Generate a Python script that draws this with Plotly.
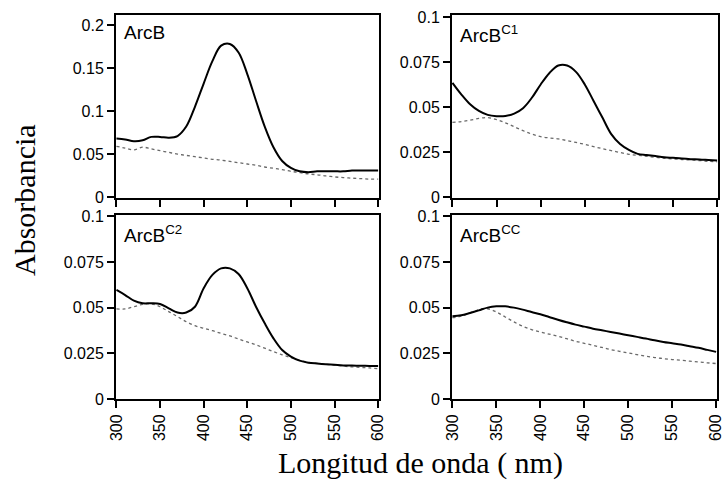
# Espectros de absorción de ArcB y sus variantes (4 paneles)
import plotly.graph_objects as go

# --- Datos ---
LONGITUD_ONDA = [300, 310, 320, 330, 340, 350, 360, 370, 380, 390, 400,
                 410, 420, 430, 440, 450, 460, 470, 480, 490, 500,
                 510, 520, 530, 540, 550, 560, 570, 580, 590, 600]

ARCB_OX = [0.068, 0.067, 0.065, 0.066, 0.070, 0.070, 0.069, 0.071, 0.082, 0.105, 0.132,
           0.158, 0.176, 0.178, 0.168, 0.143, 0.112, 0.082, 0.058, 0.042, 0.034,
           0.030, 0.029, 0.030, 0.030, 0.030, 0.030, 0.031, 0.031, 0.031, 0.031]
ARCB_RED = [0.059, 0.057, 0.055, 0.058, 0.056, 0.054, 0.052, 0.050, 0.0485, 0.047, 0.0455,
            0.044, 0.043, 0.0415, 0.040, 0.0385, 0.037, 0.035, 0.0335, 0.032, 0.030,
            0.0285, 0.027, 0.026, 0.0246, 0.0235, 0.0227, 0.022, 0.0215, 0.021, 0.021]

C1_OX = [0.0634, 0.057, 0.0515, 0.0478, 0.0456, 0.0449, 0.045, 0.0463, 0.0493, 0.0551, 0.0625,
         0.0689, 0.073, 0.073, 0.0695, 0.0625, 0.0533, 0.0441, 0.0349, 0.0294, 0.0261,
         0.0239, 0.0233, 0.0227, 0.0221, 0.0217, 0.0213, 0.021, 0.0208, 0.0205, 0.0202]
C1_RED = [0.0414, 0.0419, 0.0426, 0.0436, 0.0441, 0.043, 0.0412, 0.039, 0.0368, 0.0349, 0.0335,
          0.0328, 0.0322, 0.0313, 0.0303, 0.0292, 0.028, 0.0268, 0.0257, 0.0247, 0.0237,
          0.0231, 0.0226, 0.022, 0.0215, 0.0211, 0.0208, 0.0205, 0.0202, 0.0198, 0.0195]

C2_OX = [0.0597, 0.0569, 0.0538, 0.0524, 0.0524, 0.052, 0.0496, 0.0473, 0.0473, 0.0505, 0.0606,
         0.0679, 0.0715, 0.0715, 0.0684, 0.0606, 0.0505, 0.0414, 0.0332, 0.0268, 0.0232,
         0.021, 0.0199, 0.0194, 0.019, 0.0187, 0.0184, 0.0183, 0.0182, 0.0181, 0.018]
C2_RED = [0.0493, 0.0493, 0.0505, 0.0518, 0.052, 0.0505, 0.0478, 0.0451, 0.0423, 0.0401, 0.0387,
          0.0374, 0.0359, 0.0345, 0.0328, 0.0312, 0.0296, 0.0278, 0.0259, 0.0242, 0.0226,
          0.0212, 0.0201, 0.0195, 0.019, 0.0185, 0.018, 0.0176, 0.0173, 0.017, 0.0166]

CC_OX = [0.0453, 0.0458, 0.0471, 0.0485, 0.050, 0.0507, 0.0507, 0.050, 0.0489, 0.0476, 0.0464,
         0.0449, 0.0434, 0.042, 0.0407, 0.0396, 0.0385, 0.0376, 0.0367, 0.0358, 0.0349,
         0.034, 0.0331, 0.0321, 0.0312, 0.0305, 0.0298, 0.0289, 0.028, 0.0269, 0.0258]
CC_RED = [0.0445, 0.0453, 0.0471, 0.0489, 0.0494, 0.0476, 0.0449, 0.0422, 0.0398, 0.038, 0.0367,
          0.0355, 0.0343, 0.033, 0.0316, 0.0305, 0.0294, 0.0282, 0.027, 0.0261, 0.0252,
          0.0243, 0.0234, 0.0227, 0.0221, 0.0216, 0.0212, 0.0207, 0.0203, 0.0198, 0.0194]

ETIQUETAS = ["ArcB", "ArcB<sup>C1</sup>", "ArcB<sup>C2</sup>", "ArcB<sup>CC</sup>"]
X_TICKS = [300, 350, 400, 450, 500, 550, 600]
Y_TICKS_ARCB = [0, 0.05, 0.1, 0.15, 0.2]
Y_TICKS_MUT = [0, 0.025, 0.05, 0.075, 0.1]

W, H = 725, 480
FUENTE_SANS = "Liberation Sans, Arial, sans-serif"
FUENTE_SERIF = "Liberation Serif, Times New Roman, serif"

# Paneles en píxeles: (izq, der, arriba, abajo)
PANELES = [(116, 379, 15, 198), (452, 718, 15, 198),
           (116, 379, 215, 399), (452, 717, 215, 399)]
RANGOS_Y = [[-0.001, 0.2116], [-0.0006, 0.1011], [0, 0.1007], [0, 0.1007]]

fig = go.Figure()

series = [(ARCB_OX, ARCB_RED), (C1_OX, C1_RED), (C2_OX, C2_RED), (CC_OX, CC_RED)]
for i, (ox, red) in enumerate(series):
    sufijo = "" if i == 0 else str(i + 1)
    # Espectro reducido (punteado gris) y oxidado (línea negra)
    fig.add_trace(go.Scatter(x=LONGITUD_ONDA, y=red, mode="lines", line_shape="spline",
                             line=dict(color="#6a6a6a", width=1.3, dash="dot"),
                             xaxis="x" + sufijo, yaxis="y" + sufijo, showlegend=False))
    fig.add_trace(go.Scatter(x=LONGITUD_ONDA, y=ox, mode="lines", line_shape="spline",
                             line=dict(color="black", width=2),
                             xaxis="x" + sufijo, yaxis="y" + sufijo, showlegend=False))

    izq, der, arriba, abajo = PANELES[i]
    yt = Y_TICKS_ARCB if i == 0 else Y_TICKS_MUT
    fila_inferior = i >= 2
    fig.update_layout(**{
        "xaxis" + sufijo: dict(
            domain=[izq / W, der / W], range=[299.5, 601], anchor="y" + sufijo,
            tickvals=X_TICKS, ticktext=[str(v) for v in X_TICKS],
            showticklabels=fila_inferior, tickangle=-90, automargin=False,
            ticks="outside", ticklen=7, tickwidth=2, tickcolor="black",
            showline=True, linecolor="black", linewidth=2, mirror=True,
            showgrid=False, zeroline=False,
            tickfont=dict(family=FUENTE_SANS, size=16, color="black")),
        "yaxis" + sufijo: dict(
            domain=[1 - abajo / H, 1 - arriba / H], range=RANGOS_Y[i], anchor="x" + sufijo,
            tickvals=yt, ticktext=[f"{v:g}" for v in yt], automargin=False,
            ticks="outside", ticklen=7, tickwidth=2, tickcolor="black",
            showline=True, linecolor="black", linewidth=2, mirror=True,
            showgrid=False, zeroline=False,
            tickfont=dict(family=FUENTE_SANS, size=16, color="black")),
    })
    fig.add_annotation(text=ETIQUETAS[i], xref="paper", yref="paper",
                       x=(izq + 6) / W, y=1 - (arriba + 5) / H,
                       xanchor="left", yanchor="top", showarrow=False,
                       font=dict(family=FUENTE_SANS, size=19, color="black"))

# Títulos de ejes comunes
fig.add_annotation(text="Absorbancia", xref="paper", yref="paper",
                   x=24 / W, y=1 - 200 / H, textangle=-90, showarrow=False,
                   xanchor="center", yanchor="middle",
                   font=dict(family=FUENTE_SERIF, size=30, color="black"))
fig.add_annotation(text="Longitud de onda ( nm)", xref="paper", yref="paper",
                   x=420 / W, y=1 - 463 / H, showarrow=False,
                   xanchor="center", yanchor="middle",
                   font=dict(family=FUENTE_SERIF, size=30, color="black"))

fig.update_layout(width=W, height=H, margin=dict(l=0, r=0, t=0, b=0),
                  paper_bgcolor="white", plot_bgcolor="white")

# Quitar el margen por defecto del <body> para que la figura ocupe toda la ventana
fig.write_html("out.html", config={"displayModeBar": False},
               post_script="document.body.style.margin = '0';")
